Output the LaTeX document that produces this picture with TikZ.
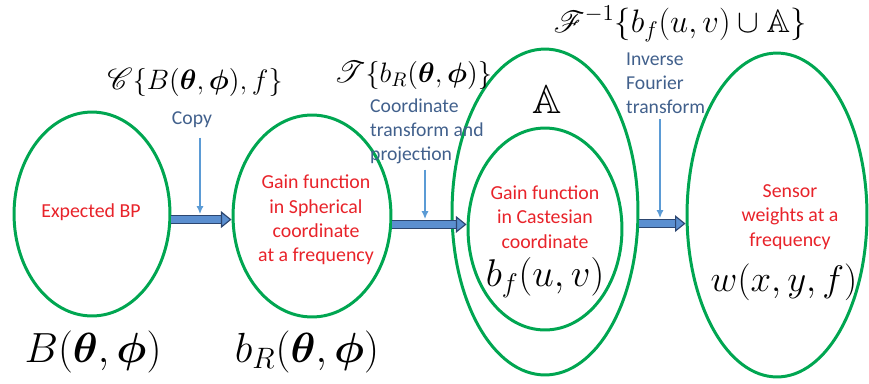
\RequirePackage{fix-cm}
\documentclass[tikz,border=0pt]{standalone}
\usepackage{amsmath,amssymb}
\usepackage{mathrsfs}
\usepackage{fontspec}
\setmainfont{Carlito}
\usepackage{tikz}
\usetikzlibrary{positioning,arrows.meta,shapes.geometric,calc}
\definecolor{bpGreen}{HTML}{00A651}
\definecolor{bpRed}{HTML}{E8232A}
\definecolor{bpSlate}{HTML}{41608C}
\definecolor{bpBlue}{HTML}{5B8FD0}
\definecolor{bpNavy}{HTML}{2C4670}
\definecolor{bpSky}{HTML}{5B9BD5}
\newcommand{\bpring}[5]{%
 \node[draw=bpGreen, line width=1.7pt, ellipse, inner sep=0pt, minimum width=#4*0.04cm, minimum height=#5*0.04cm] (#1) at (#2,#3) {};}

\begin{document}
\begin{tikzpicture}[x=0.02cm, y=-0.02cm,
 redtext/.style={text=bpRed, font=\fontsize{11.3}{13.9}\selectfont, align=center},
 opnote/.style={text=bpSlate, font=\fontsize{11.2}{13.6}\selectfont, align=left},
 bigarrow/.style={draw=bpNavy, line width=0.65pt, double=bpBlue, double distance=4.2pt, -{Triangle[length=6pt,width=9.5pt,fill=bpBlue]}},
 thinarrow/.style={draw=bpSky, line width=0.7pt, -{Latex[length=4.5pt,width=4pt]}}]
\useasboundingbox (0,0) rectangle (869,383);
% rings
\bpring{bp}{92}{214}{78}{102}
\bpring{sph}{312}{216}{79}{101}
\bpring{aset}{545}{212}{93}{163}
\bpring{cart}{545}{229}{77}{101}
\bpring{wts}{777}{215}{90}{162}
% text in the rings
\node[redtext] (bptxt) at (91,212) {Expected BP};
\node[redtext] (sphtxt) at (316,220) {Gain function\\in Spherical\\coordinate\\at a frequency};
\node[redtext] (carttxt) at (545,217) {Gain function\\in Castesian\\coordinate};
\node[redtext] (wtstxt) at (790,217) {Sensor\\weights at a\\frequency};
\node (alab) at (547,100) {\fontsize{23}{27}\selectfont $\mathbb{A}$};
\node (bflab) at (545,278) {\fontsize{22}{26}\selectfont $b_f(u,v)$};
\node (wlab) at (784,282) {\fontsize{21}{25}\selectfont $w(x,y,f)$};
% labels below
\node (blab) at (93,352) {\fontsize{24}{28}\selectfont $B(\boldsymbol\theta,\boldsymbol\phi)$};
\node (brlab) at (307,352) {\fontsize{24}{28}\selectfont $b_R(\boldsymbol\theta,\boldsymbol\phi)$};
% operators
\node (copyop) at (195,82) {\fontsize{16}{19}\selectfont $\mathscr{C}\{B(\boldsymbol\theta,\boldsymbol\phi),f\}$};
\node (ctpop) at (413,75) {\fontsize{16}{19}\selectfont $\mathscr{T}\{b_R(\boldsymbol\theta,\boldsymbol\phi)\}$};
\node (iftop) at (680,24) {\fontsize{18.5}{22}\selectfont $\mathscr{F}^{-1}\{b_f(u,v)\cup\mathbb{A}\}$};
\node[opnote] (copy) at (192,120) {Copy};
\node[opnote, anchor=west] (ctp) at (364,131) {Coordinate\\transform and\\projection};
\node[opnote, anchor=west] (ift) at (620,83) {Inverse\\Fourier\\transform};
% arrows
\draw[bigarrow] (bp.-4) -- (bp.-4 -| sph.west);
\draw[bigarrow] (sph.-6) -- (sph.-6 -| cart.west);
\draw[bigarrow] (aset.-7) -- (aset.-7 -| wts.west);
\coordinate (cp1) at (200,214);
\coordinate (cp2) at (425,219);
\coordinate (cp3) at (660,218);
\draw[thinarrow, shorten <=2pt] (copy.south -| cp1) -- (cp1);
\draw[thinarrow] (ctp.south -| cp2) -- (cp2);
\draw[thinarrow] (ift.south -| cp3) -- (cp3);
\end{tikzpicture}
\end{document}
